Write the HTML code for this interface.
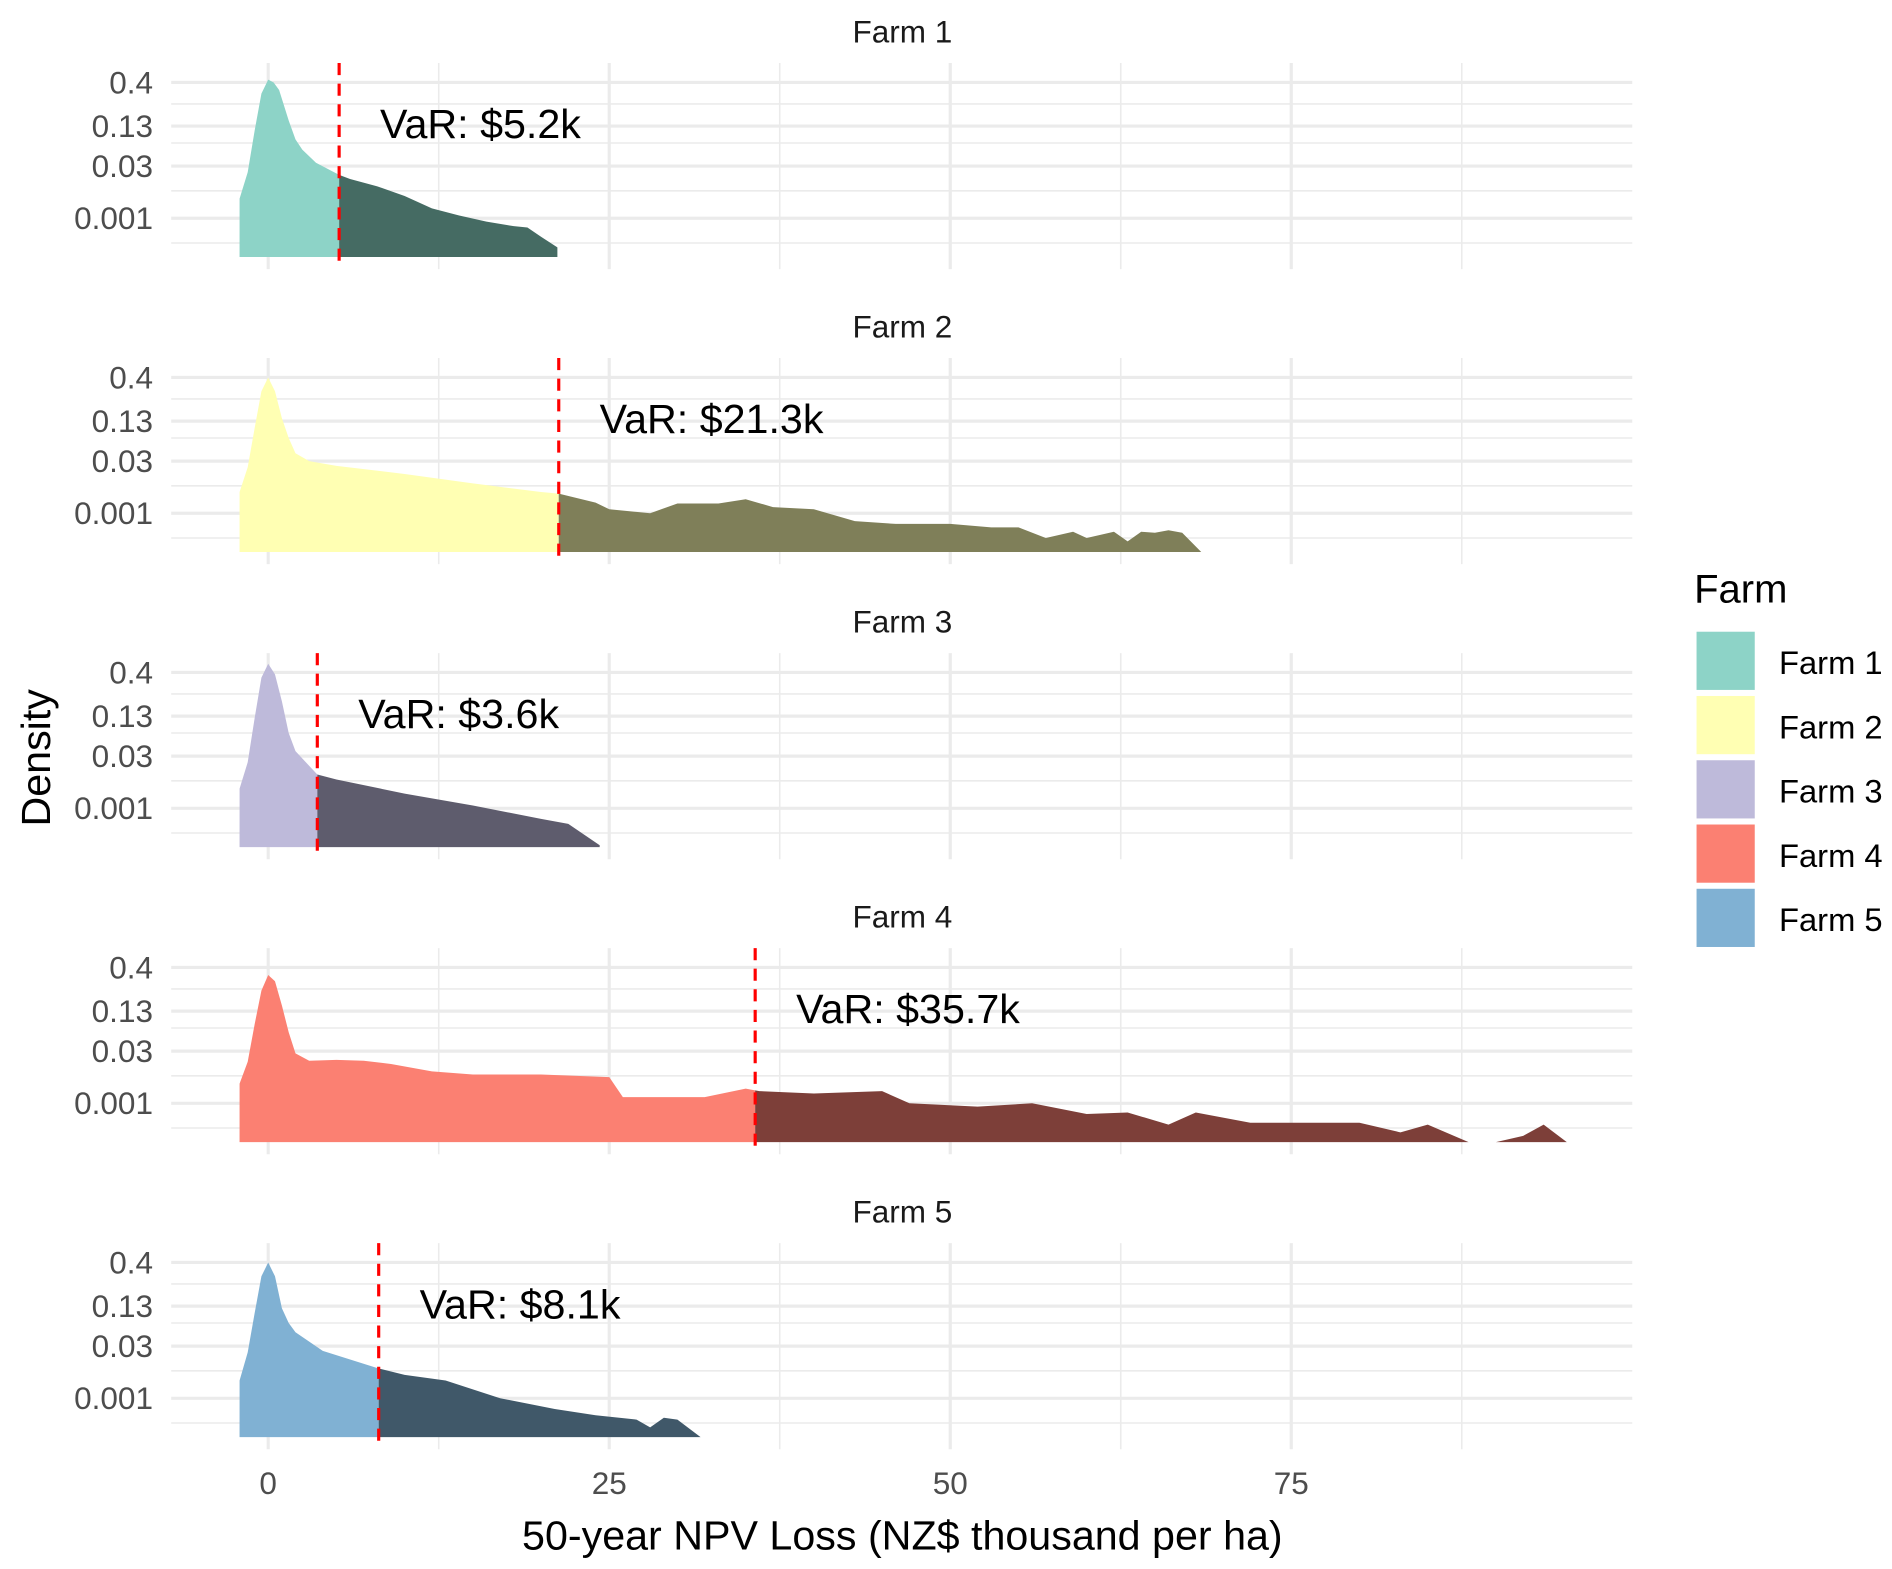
<!DOCTYPE html>
<html><head><meta charset="utf-8"><style>
html,body{margin:0;padding:0;background:#fff;}
svg{display:block;font-family:"Liberation Sans",sans-serif;}
</style></head><body>
<svg id="chart" width="1892" height="1569" viewBox="0 0 1560 1294" xmlns="http://www.w3.org/2000/svg">
<rect width="1560" height="1294" fill="#fff"/>
<g id="panels"></g>
<g id="axes"></g>
<g id="legend"></g>
</svg>
<script>
const farms = ["Farm 1","Farm 2","Farm 3","Farm 4","Farm 5"];
const lightColors = ["#8dd3c7","#ffffb3","#bebada","#fb8072","#80b1d3"];
const darkColors = ["#456b63","#7f7f59","#5e5c6d","#7d3f39","#405869"];
const varValues = [5.2, 21.3, 3.6, 35.7, 8.1];
const xTicks = [0, 25, 50, 75];
const xMinor = [12.5, 37.5, 62.5, 87.5];
const yTicks = [0.4, 0.13, 0.03, 0.001];
const yTickLabels = ["0.4","0.13","0.03","0.001"];
const yMinor = [0.23, 0.07, 0.006, 0.0002];

const f1x = [-2.1,-1.5,-1,-0.5,0,0.4,0.8,1.5,2,2.5,3.5,5.2,6,8,10,12,14,16,18,19,20,21.2];
const f1d = [0.0036,0.02,0.11,0.3,0.43,0.4,0.33,0.15,0.08,0.055,0.034,0.017,0.013,0.008,0.0043,0.0019,0.0012,0.0008,0.0006,0.00055,0.0003,0.00015];
const f2x = [-2.1,-1.5,-1,-0.5,0,0.5,1,1.5,2,3,5,10,15,20,21.3,24,25,28,30,33,35,37,40,43,46,50,53,55,57,59,60,62,63,64,65,66,67,68.4];
const f2d = [0.004,0.02,0.1,0.28,0.4,0.28,0.14,0.07,0.04,0.03,0.022,0.013,0.007,0.004,0.0036,0.002,0.0013,0.001,0.0019,0.0019,0.0025,0.0015,0.0013,0.0006,0.0005,0.0005,0.0004,0.0004,0.0002,0.0003,0.0002,0.0003,0.00016,0.0003,0.00028,0.00033,0.00028,0.00008];
const f3x = [-2.1,-1.5,-1,-0.5,0,0.5,1,1.5,2,3.6,5,10,15,20,22,24.3];
const f3d = [0.0036,0.02,0.12,0.35,0.5,0.38,0.19,0.07,0.036,0.009,0.0065,0.0026,0.0012,0.0005,0.00036,0.00009];
const f4x = [-2.1,-1.5,-1,-0.5,0,0.5,1,1.5,2,3,5,7,9,12,15,20,25,26,28,32,35,36,40,45,47,52,56,60,63,66,68,72,76,80,83,85,88,90,92,93.5,95.2];
const f4d = [0.0036,0.015,0.08,0.22,0.33,0.28,0.15,0.06,0.026,0.016,0.017,0.016,0.013,0.008,0.0065,0.0065,0.0055,0.0015,0.0015,0.0015,0.0026,0.0022,0.0019,0.0022,0.001,0.0008,0.001,0.0005,0.00055,0.00025,0.00055,0.00028,0.00028,0.00028,0.00015,0.00025,0.00008,0.00008,0.00012,0.00025,0.00008];
const f5x = [-2.1,-1.5,-1,-0.5,0,0.5,1,1.5,2,4,8.1,10,13,17,21,24,27,28,29,30,31.7];
const f5d = [0.0032,0.02,0.1,0.28,0.4,0.28,0.12,0.07,0.05,0.022,0.007,0.0046,0.0032,0.001,0.0005,0.00033,0.00025,0.00015,0.00028,0.00025,0.00008];
const allX = [f1x,f2x,f3x,f4x,f5x];
const allD = [f1d,f2d,f3d,f4d,f5d];

const NS = "http://www.w3.org/2000/svg";
function mk(tag, attrs, parent){const e=document.createElementNS(NS,tag);for(const k in attrs)e.setAttribute(k,attrs[k]);parent.appendChild(e);return e;}
function xS(v){return 221 + v*11.25;}
const kL=[-4.097,-3,-1.523,-0.886,-0.398], kY=[212,180,137,104,68];
function yS(d, off){
  let l=Math.log10(Math.max(d,8e-5)); let y;
  if(l>=kL[4]) y=68-(l-kL[4])*74;
  else { for(let i=0;i<4;i++){ if(l<=kL[i+1]){ y=kY[i]+(l-kL[i])/(kL[i+1]-kL[i])*(kY[i+1]-kY[i]); break; } } }
  return y+off;
}
const panels=document.getElementById('panels');
const PH=243.3;
farms.forEach((name,i)=>{
  const off=i*PH;
  const g=mk('g',{},panels);
  
  
  const t=mk('text',{x:744,y:35+off,'text-anchor':'middle','font-size':26,fill:'#1a1a1a'},g);
  t.textContent=name;
  
  
  yMinor.forEach(d=>{const l=mk('line',{x1:141,x2:1346,y1:yS(d,off),y2:yS(d,off),stroke:'#ebebeb','stroke-width':1.3},g);
    });
  xMinor.forEach(v=>{const l=mk('line',{x1:xS(v),x2:xS(v),y1:52+off,y2:222+off,stroke:'#ebebeb','stroke-width':1.3},g);
    });
  yTicks.forEach((d,j)=>{const l=mk('line',{x1:141,x2:1346,y1:yS(d,off),y2:yS(d,off),stroke:'#ebebeb','stroke-width':2.6},g);
    
    const tt=mk('text',{x:126,y:yS(d,off)+9,'text-anchor':'end','font-size':26,fill:'#4d4d4d'},g);
    tt.textContent=yTickLabels[j];
    });
  xTicks.forEach(v=>{const l=mk('line',{x1:xS(v),x2:xS(v),y1:52+off,y2:222+off,stroke:'#ebebeb','stroke-width':2.6},g);
    });
  const xs=allX[i], ds=allD[i], vr=varValues[i];
  const base=yS(8e-5,off);
  const interp=v=>{for(let k=0;k<xs.length-1;k++){if(v>=xs[k]&&v<=xs[k+1]){const t=(v-xs[k])/(xs[k+1]-xs[k]);return Math.pow(10,Math.log10(ds[k])+t*(Math.log10(ds[k+1])-Math.log10(ds[k])));}}return ds[ds.length-1];};
  let lp=[],dp=[];
  xs.forEach((v,k)=>{ if(v<vr) lp.push([xS(v),yS(ds[k],off)]); else dp.push([xS(v),yS(ds[k],off)]); });
  const vp=[xS(vr),yS(interp(vr),off)];
  lp.push(vp); dp.unshift(vp);
  const poly=(pts)=>'M'+pts[0][0]+','+base+' '+pts.map(p=>'L'+p[0].toFixed(1)+','+p[1].toFixed(1)).join(' ')+' L'+pts[pts.length-1][0]+','+base+' Z';
  const a1=mk('path',{d:poly(lp),fill:lightColors[i]},g);
  
  const a2=mk('path',{d:poly(dp),fill:darkColors[i]},g);
  
  const vl=mk('line',{x1:xS(vr),x2:xS(vr),y1:52+off,y2:222+off,stroke:'#ff0000','stroke-width':2.6,'stroke-dasharray':'10,7'},g);
  
  const vt=mk('text',{x:xS(vr+3),y:114+off,'font-size':34,fill:'#000'},g);
  vt.textContent='VaR: $'+vr.toFixed(1)+'k';
  
});
const axes=document.getElementById('axes');
xTicks.forEach(v=>{const t=mk('text',{x:xS(v),y:1232,'text-anchor':'middle','font-size':26,fill:'#4d4d4d'},axes);
  t.textContent=String(v);});
const xt=mk('text',{x:744,y:1278,'text-anchor':'middle','font-size':34,fill:'#000'},axes);
xt.textContent='50-year NPV Loss (NZ$ thousand per ha)';

const yt=mk('text',{x:0,y:0,'text-anchor':'middle','font-size':34,fill:'#000',transform:'translate(41,625) rotate(-90)'},axes);
yt.textContent='Density';

const lg=document.getElementById('legend');
const lt=mk('text',{x:1397,y:497,'font-size':33,fill:'#000'},lg);
lt.textContent='Farm';
farms.forEach((n,i)=>{
  const r=mk('rect',{x:1399,y:521+i*53,width:48,height:48,fill:lightColors[i]},lg);
  
  const t=mk('text',{x:1467,y:556+i*53,'font-size':27,fill:'#000'},lg);
  t.textContent=n;
});
</script>
</body></html>
